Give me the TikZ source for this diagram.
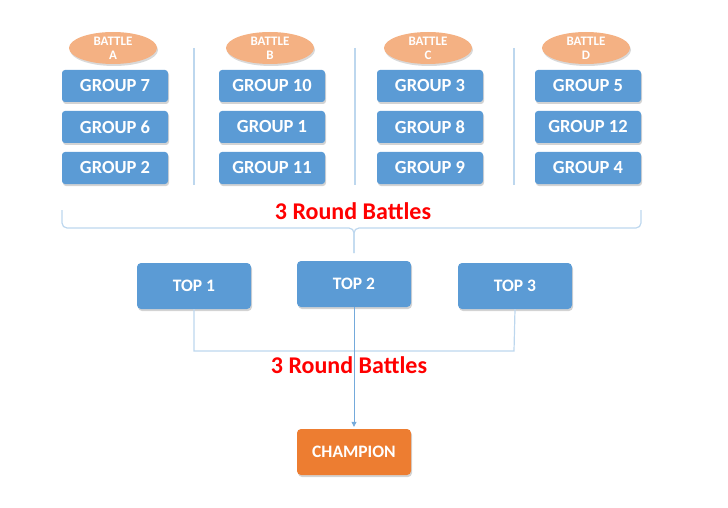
\documentclass[tikz,border=0pt]{standalone}
\usepackage{fontspec}
\setmainfont{Carlito}
\usetikzlibrary{shadows,arrows.meta,shapes.geometric}
\definecolor{boxblue}{HTML}{5B9BD5}
\definecolor{ellorange}{HTML}{F4B183}
\definecolor{champorange}{HTML}{ED7D31}
\definecolor{linelight}{HTML}{BDD7EE}
\definecolor{redtext}{HTML}{FF0000}
\tikzset{
  grp/.style={draw=none, fill=boxblue, rounded corners=3pt, minimum width=106pt, minimum height=32pt,
    text=white, font=\bfseries\fontsize{18.5}{19}\selectfont, inner sep=0pt,
    drop shadow={opacity=0.35, shadow xshift=1pt, shadow yshift=-2pt}},
  topbox/.style={grp, minimum width=114pt, minimum height=46pt, font=\bfseries\fontsize{17.5}{18}\selectfont, rounded corners=4pt},
  champ/.style={topbox, fill=champorange},
  battle/.style={ellipse, fill=ellorange, minimum width=88pt, minimum height=32pt, inner sep=0pt,
    text=white, font=\bfseries\fontsize{13}{14}\selectfont, align=center,
    drop shadow={opacity=0.3, shadow xshift=1pt, shadow yshift=-2pt}},
  sep/.style={draw=linelight, line width=1.2pt},
  redlbl/.style={text=redtext, font=\bfseries\fontsize{24}{26}\selectfont},
}
\begin{document}
\begin{tikzpicture}[x=1pt,y=-1pt]
\useasboundingbox (0,0) rectangle (728,508);
% columns
\foreach \cx/\bl/\ga/\gb/\gc/\n in {115/A/7/6/2/a, 272/B/10/1/11/b, 430/C/3/8/9/c, 588/D/5/12/4/d}{
  \node[battle] (bat\n) at (\cx-2,48) {BATTLE\\\bl};
  \node[grp] (g\n1) at (\cx,86) {GROUP \ga};
  \node[grp] (g\n2) at (\cx,127) {GROUP \gb};
  \node[grp] (g\n3) at (\cx,168) {GROUP \gc};
}
% separators
\coordinate (s1t) at (194,48); \coordinate (s1b) at (194,185);
\coordinate (s2t) at (355,48); \coordinate (s2b) at (355,185);
\coordinate (s3t) at (514,48); \coordinate (s3b) at (514,185);
\draw[sep] (s1t) -- (s1b);
\draw[sep] (s2t) -- (s2b);
\draw[sep] (s3t) -- (s3b);
% brace
\coordinate (brl) at (62,210);
\coordinate (brr) at (641,210);
\coordinate (brtip) at (354,253);
\draw[sep, rounded corners=5pt] (brl) |- (354,228) -- (brtip);
\draw[sep, rounded corners=5pt] (brr) |- (354,228) -- (brtip);
\node[redlbl] (lbl1) at (353,211) {3 Round Battles};
% tops
\node[topbox] (top1) at (194,286) {TOP 1};
\node[topbox] (top2) at (354,284) {TOP 2};
\node[topbox] (top3) at (515,286) {TOP 3};
% bottom connector
\coordinate (j1) at (194,351);
\coordinate (j3) at (514,351);
\draw[sep] (top1.south) -- (j1) -- (j3) -- (top3.south);
\node[champ] (champ) at (354,452) {CHAMPION};
\draw[draw=boxblue!85, line width=0.8pt, -{Triangle[length=5pt,width=5pt]}] (top2.south) -- ([yshift=2pt]champ.north);
\node[redlbl] (lbl2) at (349,365) {3 Round Battles};
\end{tikzpicture}
\end{document}
